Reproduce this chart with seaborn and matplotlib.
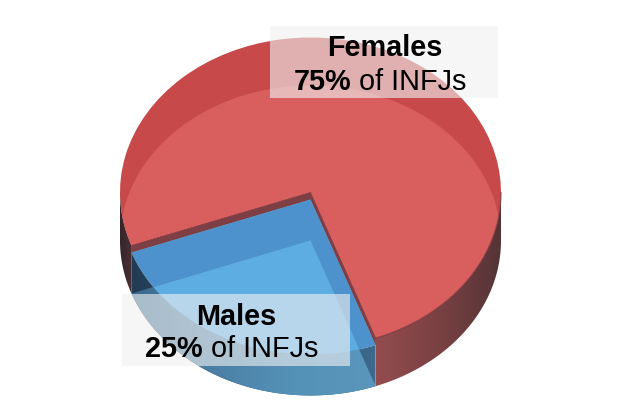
import numpy as np
import seaborn as sns
from matplotlib import pyplot as plt
from matplotlib.patches import Circle, Rectangle, Polygon

### Data ###
groups = ['Females', 'Males']
shares = [75, 25]
suffix = 'of INFJs'

### Pie geometry in pixels (the axes fill the figure) ###
W, H = 640, 420
cx, cy, rx, ry = 310.5, 192.5, 190.5, 155
depth_red = 48
depth_blue = 41
start = 290

red_back, red_face = '#c74949', '#d95f5f'
blue_face, blue_light = '#4d92cc', '#5dade2'
edge = '#74343a'

sns.set_theme(style='white')
plt.rcParams['font.family'] = ['Liberation Sans', 'DejaVu Sans']

fig = plt.figure(figsize=(W / 100, H / 100), dpi=100)
ax = fig.add_axes([0, 0, 1, 1])


def pie_layer(offset, colors, zorder):
    # one ax.pie per layer, offset is pixels below the top rim
    wedges, _ = ax.pie(shares, startangle=start, center=(0, -offset / ry), radius=1, colors=colors,
                       wedgeprops=dict(linewidth=0))
    for w, c in zip(wedges, colors):
        w.set_zorder(zorder)
        w.set_visible(c != 'none')
    return wedges


def gradient(x0, x1, colors, zorder, clip):
    # horizontal colour ramp, cut to the shape given in clip
    ramp = np.array(sns.blend_palette(colors, 256))[np.newaxis, :, :]
    im = ax.imshow(ramp, extent=(x0, x1, -1.5, 1.2), aspect='auto', interpolation='bilinear', zorder=zorder)
    im.set_clip_path(clip)


def wall(a0, a1, top, colors, zorder):
    # side wall between the upper and the lower arc
    t = np.radians(np.linspace(a0, a1, 200))
    upper = np.column_stack([np.cos(t), np.sin(t) - top / ry])
    lower = np.column_stack([np.cos(t), np.sin(t) - depth_red / ry])[::-1]
    shape = Polygon(np.vstack([upper, lower]), transform=ax.transData)
    gradient(np.cos(t[0]), np.cos(t[-1]), colors, zorder, shape)


# angles of the male slice, from the shares
a_f = (start + 360 * shares[0] / sum(shares)) % 360
a_m = a_f + 360 * shares[1] / sum(shares)

### Red slice ###
pie_layer(0, [red_back, 'none'], 1)
wall(a_m, 360, 0, ['#934c4e', '#7a4143', '#543436'], 2)
wall(180, a_f, 0, ['#33262b', '#4a2f33'], 2)
lit = pie_layer(0, [red_face, 'none'], 3)
lit[0].set_clip_on(True)
lit[0].set_clip_path(Circle((0, -depth_red / ry), 1, transform=ax.transData))

# rim line and the inner cut wall above the shorter blue slice
t = np.radians(np.linspace(a_m, 360, 120))
ax.plot(np.cos(t), np.sin(t), color=edge, lw=0.9, alpha=0.7, zorder=4)
d = (depth_red - depth_blue) / ry
left = (np.cos(np.radians(a_f)), np.sin(np.radians(a_f)))
right = (np.cos(np.radians(a_m)), np.sin(np.radians(a_m)))
ax.add_patch(Polygon([left, (0, 0), right, (right[0], right[1] - d), (0, -d), (left[0], left[1] - d)],
                     fc='#7d3f44', ec=edge, lw=0.4, zorder=4))

### Blue slice ###
pie_layer(depth_red - depth_blue, ['none', blue_face], 5)
wall(a_f, a_m, depth_red - depth_blue, ['#233c55', '#2f5473', '#3c698c'], 6)
# wall seen over the floor of the slice, then the floor seen through the top
floor = pie_layer(depth_red, ['none', 'none'], 0)[1]
gradient(left[0], right[0], ['#3a6a8e', '#4b7fa5', '#5592b8', '#5a96bc'], 7, floor)
light = pie_layer(depth_red, ['none', blue_light], 8)
light[1].set_clip_on(True)
light[1].set_clip_path(Circle((0, -d), 1, transform=ax.transData))

ax.set_aspect('auto')
ax.set_xlim(-cx / rx, (W - cx) / rx)
ax.set_ylim((cy - H) / ry, cy / ry)
ax.axis('off')


### Label boxes and text, placed in figure pixels ###
def fx(x):
    return x / W


def fy(y):
    return 1 - y / H


boxes = [(270, 26, 228, 72), (122, 294, 228, 72)]
names = [(385, 56), (236, 325)]
pct_right = [351, 203]
pct_base = [90, 357]
for i, name in enumerate(groups):
    x, y, w, h = boxes[i]
    fig.add_artist(Rectangle((fx(x), fy(y + h)), w / W, h / H, transform=fig.transFigure,
                             fc='#f1f1f1', ec='none', alpha=0.61, zorder=20))
    fig.text(fx(names[i][0]), fy(names[i][1]), name, ha='center', va='baseline',
             fontsize=20.8, fontweight='bold', color='black', zorder=21)
    fig.text(fx(pct_right[i]), fy(pct_base[i]), '%d%%' % shares[i], ha='right', va='baseline',
             fontsize=20.8, fontweight='bold', color='black', zorder=21)
    fig.text(fx(pct_right[i] + 8), fy(pct_base[i]), suffix, ha='left', va='baseline',
             fontsize=20.8, color='black', zorder=21)

fig.savefig('out.png', dpi=100)
